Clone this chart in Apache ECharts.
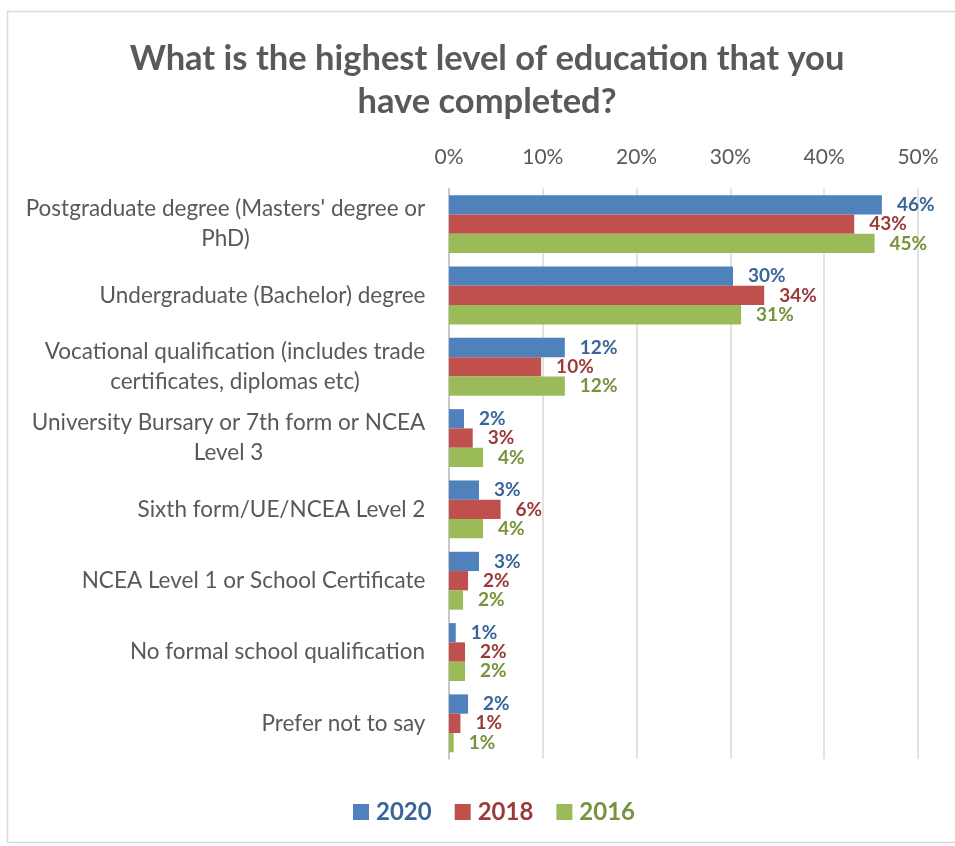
<!DOCTYPE html>
<html>
<head>
<meta charset="utf-8">
<script src="https://cdn.jsdelivr.net/npm/echarts@6/dist/echarts.min.js"></script>
<style>
html,body{margin:0;padding:0;background:#fff;}
#chart{width:955px;height:846px;}
</style>
</head>
<body>
<div id="chart"></div>
<script>
const titleText = 'What is the highest level of education that you\nhave completed?';
const categories = [
  "Postgraduate degree (Masters' degree or\nPhD)",
  "Undergraduate (Bachelor) degree",
  "Vocational qualification (includes trade\ncertificates, diplomas etc)",
  "University Bursary or 7th form or NCEA\nLevel 3",
  "Sixth form/UE/NCEA Level 2",
  "NCEA Level 1 or School Certificate",
  "No formal school qualification",
  "Prefer not to say"
];
const seriesNames = ['2020', '2018', '2016'];
const v2020 = [46.15, 30.28, 12.35, 1.6, 3.2, 3.2, 0.72, 2.03];
const v2018 = [43.2, 33.6, 9.82, 2.53, 5.5, 2.03, 1.71, 1.22];
const v2016 = [45.37, 31.14, 12.35, 3.63, 3.63, 1.5, 1.71, 0.5];
const xTicks = [0, 10, 20, 30, 40, 50];

const FONT = 'Lato';
const barColors = ['#4F81BD', '#C0504D', '#9BBB59'];
const labelColors = ['#3A6599', '#9A3B39', '#77933C'];
const catFontSize = 22.5;

// measure lines for centered multi-line category labels
const mctx = document.createElement('canvas').getContext('2d');
mctx.font = catFontSize + 'px ' + FONT;
const rich = {};
categories.forEach((c, i) => {
  const w = Math.max(...c.split('\n').map(l => mctx.measureText(l).width));
  rich['c' + i] = {
    width: Math.ceil(w) + 1, align: 'center', fontFamily: FONT,
    fontSize: catFontSize, color: '#595959', lineHeight: 30
  };
});

const chart = echarts.init(document.getElementById('chart'));
const seriesData = [v2020, v2018, v2016];
chart.setOption({
  animation: false,
  backgroundColor: '#fff',
  textStyle: { fontFamily: FONT },
  graphic: [{
    type: 'rect', silent: true,
    shape: { x: 7.5, y: 11.5, width: 960, height: 831 },
    style: { fill: 'none', stroke: '#D9D9D9', lineWidth: 1.5 }
  }],
  title: {
    text: titleText,
    left: 487, top: 37, padding: 0,
    textAlign: 'center',
    textStyle: { fontFamily: FONT, fontSize: 34.5, fontWeight: 'bold', color: '#595959', lineHeight: 43 }
  },
  legend: {
    left: 353, top: 800, padding: 0,
    icon: 'rect', itemWidth: 16, itemHeight: 16, itemGap: 23,
    data: seriesNames.map((n, i) => ({
      name: n,
      textStyle: { color: labelColors[i], fontWeight: 'bold', fontSize: 24, fontFamily: FONT, padding: [0, 0, 0, 2] }
    }))
  },
  grid: { left: 449, right: 37, top: 188.5, bottom: 87, containLabel: false },
  xAxis: {
    type: 'value', position: 'top', min: xTicks[0], max: xTicks[xTicks.length - 1], interval: 10,
    axisLine: { show: false }, axisTick: { show: false },
    splitLine: { show: true, lineStyle: { color: '#D9D9D9', width: 1.5 } },
    axisLabel: { formatter: '{value}%', color: '#595959', fontSize: 21, fontFamily: FONT, margin: 21 }
  },
  yAxis: {
    type: 'category', data: categories, inverse: true,
    axisLine: { show: true, lineStyle: { color: '#BFBFBF', width: 1.5 } },
    axisTick: { show: false },
    axisLabel: {
      margin: 23, rich: rich,
      formatter: (value, index) => value.split('\n').map(l => '{c' + index + '|' + l + '}').join('\n')
    }
  },
  series: seriesNames.map((n, i) => ({
    name: n, type: 'bar', data: seriesData[i],
    barWidth: 19.3, barGap: '0%',
    itemStyle: { color: barColors[i] },
    label: {
      show: true, position: 'right', distance: 15,
      formatter: p => Math.round(p.value) + '%',
      color: labelColors[i], fontWeight: 'bold', fontSize: 19, fontFamily: FONT
    }
  }))
});
</script>
</body>
</html>
